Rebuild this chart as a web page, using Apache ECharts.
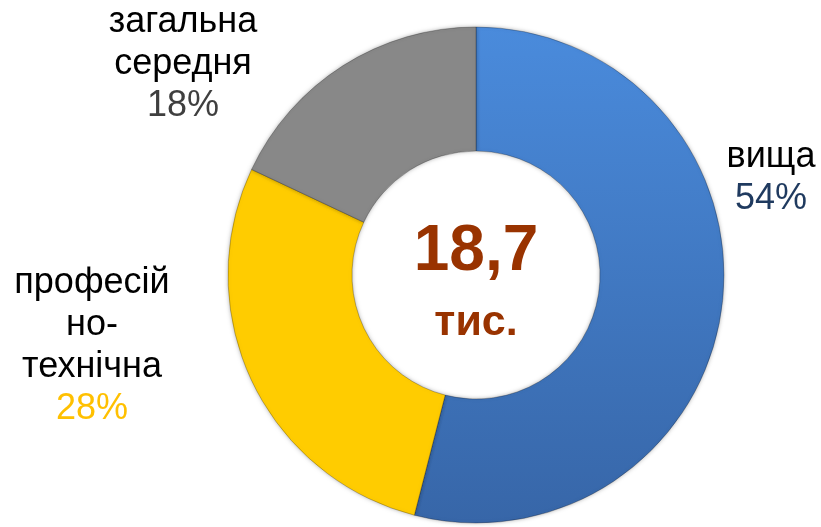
<!DOCTYPE html>
<html>
<head>
<meta charset="utf-8">
<script src="https://cdn.jsdelivr.net/npm/echarts@6/dist/echarts.min.js"></script>
<style>html,body{margin:0;padding:0;background:#fff;}#c{width:821px;height:527px;}</style>
</head>
<body>
<div id="c"></div>
<script>
const categories = ['вища', 'професій\nно-\nтехнічна', 'загальна\nсередня'];
const values = [54, 28, 18];
const totalValue = '18,7';
const totalUnit = 'тис.';

const sliceColors = [
  new echarts.graphic.LinearGradient(0, 0, 0, 1, [
    {offset: 0, color: '#4a8bdc'}, {offset: 1, color: '#3766a8'}
  ]),
  '#ffcc00',
  '#888888'
];
const pctColors = ['#1f3a5f', '#ffc000', '#3f3f3f'];
const labelPos = [[771, 178], [92, 346], [183, 64]];
const FONT = '"Liberation Sans", Arial, sans-serif';

const chart = echarts.init(document.getElementById('c'));
chart.setOption({
  animation: false,
  graphic: [
    {type: 'text', x: 476, y: 252, style: {text: totalValue, font: 'bold 64px ' + FONT, fill: '#993300', align: 'center', verticalAlign: 'middle'}},
    {type: 'text', x: 476, y: 323, style: {text: totalUnit, font: 'bold 43px ' + FONT, fill: '#993300', align: 'center', verticalAlign: 'middle'}}
  ],
  series: [{
    type: 'pie',
    center: [476, 275],
    radius: [124, 248],
    startAngle: 90,
    clockwise: true,
    avoidLabelOverlap: false,
    itemStyle: {borderColor: 'rgba(0,0,0,0.25)', borderWidth: 1, shadowBlur: 4, shadowColor: 'rgba(0,0,0,0.3)'},
    labelLine: {show: false},
    label: {
      show: true,
      position: 'outside',
      formatter: function (p) {
        const lines = p.name.split('\n').map(function (s) { return '{n|' + s + '}'; });
        return lines.join('\n') + '\n{p' + p.dataIndex + '|' + p.value + '%}';
      },
      rich: {
        n: {fontFamily: FONT, fontSize: 36, color: '#000', lineHeight: 42, align: 'center'},
        p0: {fontFamily: FONT, fontSize: 36, color: pctColors[0], lineHeight: 42, align: 'center'},
        p1: {fontFamily: FONT, fontSize: 36, color: pctColors[1], lineHeight: 42, align: 'center'},
        p2: {fontFamily: FONT, fontSize: 36, color: pctColors[2], lineHeight: 42, align: 'center'}
      }
    },
    labelLayout: function (params) {
      const pos = labelPos[params.dataIndex];
      return {x: pos[0], y: pos[1], align: 'center', verticalAlign: 'middle'};
    },
    data: categories.map(function (c, i) {
      return {name: c, value: values[i], itemStyle: {color: sliceColors[i]}};
    })
  }]
});
</script>
</body>
</html>
